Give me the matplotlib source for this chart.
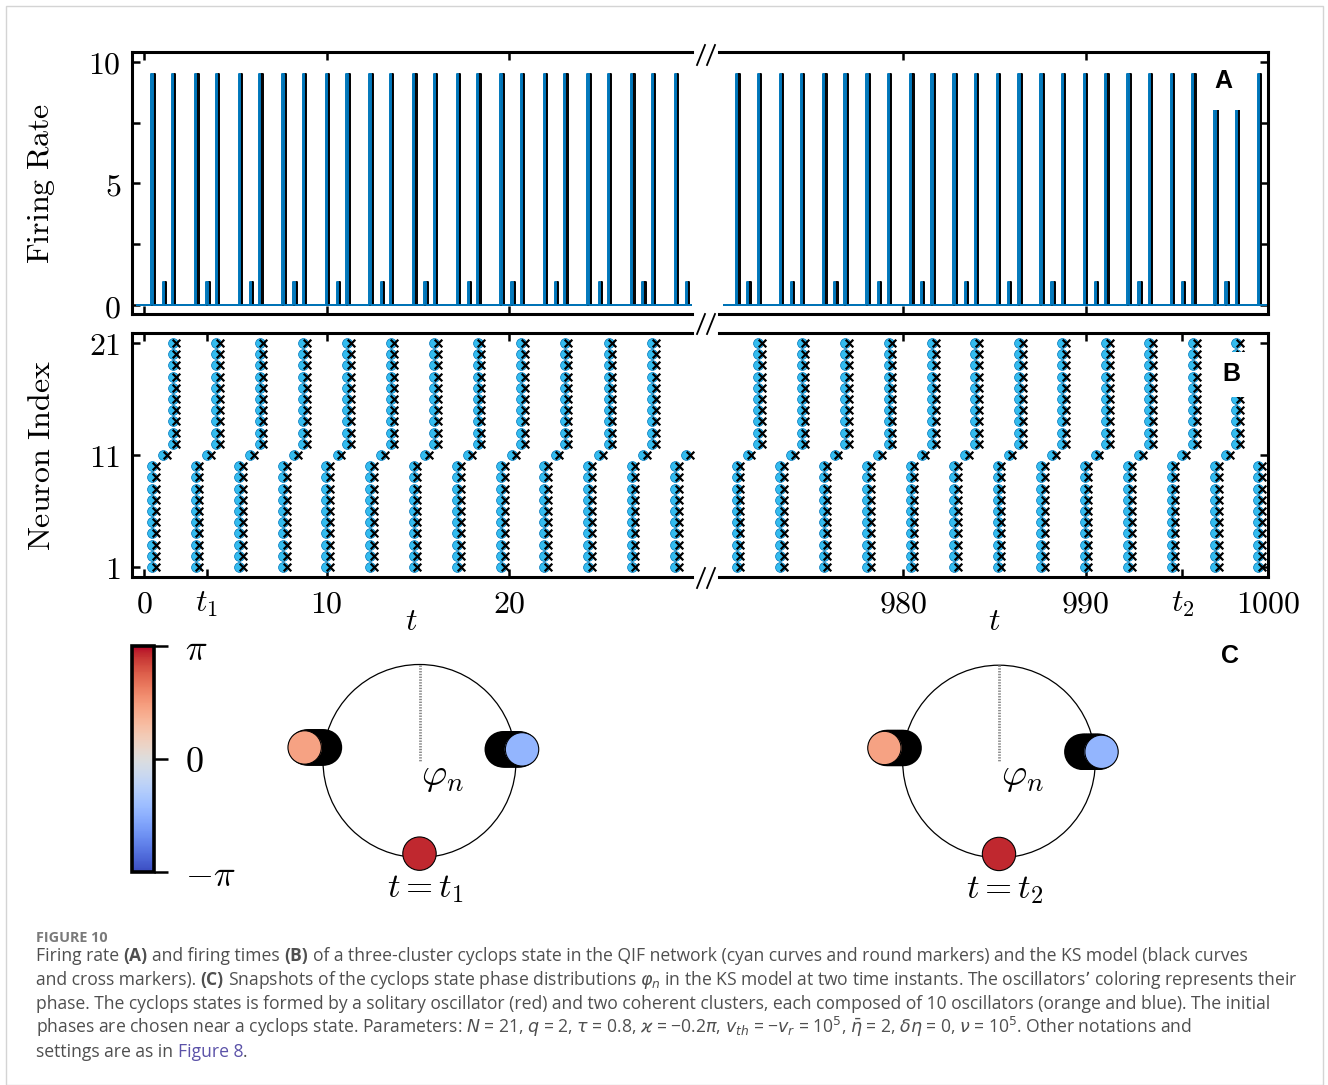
import numpy as np
import matplotlib
matplotlib.use('Agg')
import matplotlib.pyplot as plt
from matplotlib.lines import Line2D
from matplotlib.patches import Circle, Rectangle
from matplotlib.colors import Normalize
from matplotlib.cm import ScalarMappable
from matplotlib.ticker import FixedLocator, FixedFormatter

# ---------------- data ----------------
# QIF firing times: lower cluster = neurons 1-10, solitary = neuron 11, upper cluster = neurons 12-21
lower_early = [0.45, 2.84, 5.22, 7.61, 9.99, 12.38, 14.77, 17.15, 19.54, 21.92, 24.31, 26.70, 29.08]
solo_early = [1.06, 3.45, 5.83, 8.22, 10.60, 12.99, 15.38, 17.76, 20.15, 22.53, 24.92, 27.31, 29.69]
upper_early = [1.57, 3.96, 6.34, 8.73, 11.11, 13.50, 15.89, 18.27, 20.66, 23.04, 25.43, 27.82]
lower_late = [970.87, 973.26, 975.64, 978.02, 980.41, 982.79, 985.17, 987.56, 989.94,
              992.32, 994.71, 997.09, 999.47]
solo_late = [971.48, 973.86, 976.25, 978.63, 981.01, 983.40, 985.78, 988.16, 990.55,
             992.93, 995.31, 997.70]
upper_late = [972.05, 974.43, 976.81, 979.20, 981.58, 983.96, 986.35, 988.73, 991.11,
              993.50, 995.88, 998.26]
ks_lag = 0.12            # KS model fires slightly after the QIF network
cluster_rate = 9.5       # firing-rate peak when a 10-neuron cluster fires
single_rate = 0.95       # firing-rate peak when the solitary neuron fires
lower_ids = list(range(1, 11))
solo_id = [11]
upper_ids = list(range(12, 22))
t1 = 3.45
t2 = 995.31

xticks_early = [0, 10, 20]
xticks_late = [980, 990, 1000]
yticks_rate = [0, 2.5, 5, 7.5, 10]
yticklabels_rate = ['$0$', '', '$5$', '', '$10$']
yticks_idx = [1, 11, 21]

# snapshot phases (rad) at t1 and t2: solitary, orange cluster, blue cluster
snap_solitary = [np.pi, np.pi]
snap_orange = [1.43, 1.43]
snap_blue = [-1.45, -1.47]
cbar_ticks = [-np.pi, 0, np.pi]
cbar_labels = [r'$-\pi$', r'$0$', r'$\pi$']

# ---------------- figure ----------------
plt.rcParams['mathtext.fontset'] = 'cm'
plt.rcParams['font.family'] = ['DejaVu Serif']
W, H = 1328, 1085
fig = plt.figure(figsize=(W / 100, H / 100), dpi=100)
fig.patch.set_facecolor('white')


def px_axes(x0, y0, x1, y1):
    return fig.add_axes([x0 / W, 1 - y1 / H, (x1 - x0) / W, (y1 - y0) / H])


def fpt(x, y):
    return x / W, 1 - y / H


LINE_C = '#0077BB'
MARK_C = '#33BBEE'
TICK_FS = 23

axA1 = px_axes(132, 52, 692, 314)
axA2 = px_axes(719, 52, 1268, 314)
axB1 = px_axes(132, 333, 692, 577)
axB2 = px_axes(719, 333, 1268, 577)


def rate_curve(groups, lo, hi, lag=0.0, half=0.035):
    ev = []
    for times, h in groups:
        ev += [(t + lag, h) for t in times]
    ev.sort()
    xs, ys = [lo], [0]
    for t, h in ev:
        xs += [t - half, t - half, t + half, t + half]
        ys += [0, h, h, 0]
    xs.append(hi)
    ys.append(0)
    return xs, ys


panels = [
    (axA1, axB1, lower_early, solo_early, upper_early, (-0.65, 30), xticks_early, t1, r'$t_1$', True),
    (axA2, axB2, lower_late, solo_late, upper_late, (969.9, 1000), xticks_late, t2, r'$t_2$', False),
]

for axA, axB, low, solo, up, xl, xt, tsnap, tlab, is_left in panels:
    groups = [(low, cluster_rate), (solo, single_rate), (up, cluster_rate)]
    xs, ys = rate_curve(groups, xl[0] + 0.3, xl[1] - 0.05, lag=ks_lag)
    axA.plot(xs, ys, color='black', lw=1.4, zorder=2)
    xs, ys = rate_curve(groups, xl[0] + 0.3, xl[1] - 0.05)
    axA.plot(xs, ys, color=LINE_C, lw=1.4, zorder=2.1)

    for times, ids in [(low, lower_ids), (solo, solo_id), (up, upper_ids)]:
        tt = np.repeat(times, len(ids))
        ii = np.tile(ids, len(times))
        axB.scatter(tt, ii, s=50, facecolor=MARK_C, edgecolor=LINE_C, linewidth=0.5,
                    zorder=3, clip_on=False)
        axB.scatter(tt + 0.2, ii, s=30, marker='x', color='black', linewidth=1.6,
                    zorder=4, clip_on=False)

    axA.set_ylim(-0.37, 10.41)
    axB.set_ylim(0.1, 21.9)
    for ax in (axA, axB):
        ax.set_xlim(*xl)
        for s in ax.spines.values():
            s.set_linewidth(2.2)
        ax.tick_params(which='both', direction='in', length=6, width=1.8,
                       top=True, bottom=True, labelsize=TICK_FS, pad=8)
        if is_left:
            ax.spines['right'].set_visible(False)
            ax.tick_params(left=True, right=False)
        else:
            ax.spines['left'].set_visible(False)
            ax.tick_params(left=False, labelleft=False, right=True)
    axA.xaxis.set_major_locator(FixedLocator(xt))
    axA.tick_params(labelbottom=False)
    btick = sorted(xt + [tsnap])
    blab = [tlab if v == tsnap else '$%d$' % v for v in btick]
    axB.xaxis.set_major_locator(FixedLocator(btick))
    axB.xaxis.set_major_formatter(FixedFormatter(blab))
    axA.yaxis.set_major_locator(FixedLocator(yticks_rate))
    axA.yaxis.set_major_formatter(FixedFormatter(yticklabels_rate))
    axB.yaxis.set_major_locator(FixedLocator(yticks_idx))
    axB.yaxis.set_major_formatter(FixedFormatter(['$%d$' % v for v in yticks_idx]))

fig.text(*fpt(42, 183), r'$\mathrm{Firing\ Rate}$', fontsize=TICK_FS, rotation=90,
         ha='center', va='center')
fig.text(*fpt(42, 455), r'$\mathrm{Neuron\ Index}$', fontsize=TICK_FS, rotation=90,
         ha='center', va='center')
fig.text(*fpt(411, 622), r'$t$', fontsize=TICK_FS, ha='center', va='center')
fig.text(*fpt(994, 622), r'$t$', fontsize=TICK_FS, ha='center', va='center')

lab_kw = dict(fontsize=18, fontweight='bold', family=['Liberation Sans'], ha='center', va='center')
# white background behind the "A" label (under the spines)
axA2.add_patch(Rectangle((0.884, 0.78), 0.078, 0.25, transform=axA2.transAxes,
                         facecolor='white', edgecolor='none', zorder=2.3, clip_on=True))
axA2.text(0.918, 0.89, 'A', transform=axA2.transAxes, zorder=2.4, **lab_kw)
axB2.text(0.933, 0.83, 'B', transform=axB2.transAxes, zorder=5,
          bbox=dict(facecolor='white', edgecolor='none', pad=7.5), **lab_kw)
fig.text(*fpt(1230, 656), 'C', **lab_kw)

# axis break marks
for yc in (55, 324, 578):
    for dx in (-5, 5):
        fig.add_artist(Line2D([(706 + dx - 4) / W, (706 + dx + 4) / W],
                              [1 - (yc + 10) / H, 1 - (yc - 10) / H],
                              transform=fig.transFigure, color='black', lw=1.3))

# ---------------- panel C ----------------
cmap = plt.get_cmap('coolwarm')
norm = Normalize(-np.pi, np.pi)
cax = px_axes(132, 646, 154, 872)
cb = fig.colorbar(ScalarMappable(norm=norm, cmap=cmap), cax=cax)
cb.set_ticks(cbar_ticks)
cb.set_ticklabels(cbar_labels)
cb.outline.set_linewidth(2.6)
cax.tick_params(direction='out', length=10, width=1.8, labelsize=26, pad=12)

snap_centers = [(419.5, 761, 96.5), (999, 761.5, 96.3)]
snap_labels = [r'$t = t_1$', r'$t = t_2$']
disc_r = 0.173
for k, (cx, cy, R) in enumerate(snap_centers):
    half = 170
    ax = px_axes(cx - half, cy - half, cx + half, cy + half)
    ax.set_xlim(-half / R, half / R)
    ax.set_ylim(-half / R, half / R)
    ax.axis('off')
    ax.add_patch(Circle((0, 0), 1, fill=False, ec='black', lw=0.9))
    ax.plot([0, 0], [1, 0], color='#8a8a8a', lw=2.0, ls=(0, (0.5, 0.5)))
    ax.text(0.24, -0.15, r'$\varphi_n$', fontsize=28, ha='center', va='center')
    ax.text(0.06, -1.32, snap_labels[k], fontsize=25, ha='center', va='center')
    # clusters drawn as stacked discs (10 oscillators each)
    for phase, stack in [(snap_orange[k], np.linspace(0.0, -0.2, 10)),
                         (snap_blue[k], np.linspace(-0.13, 0.07, 10))]:
        px_, py_ = -np.sin(phase), np.cos(phase)
        col = cmap(norm(phase))
        for j, off in enumerate(stack):
            last = j == len(stack) - 1
            ax.add_patch(Circle((px_ + off, py_), disc_r, facecolor=col, edgecolor='black',
                                lw=0.8 if last else 2.2, zorder=3 + j))
    ph = snap_solitary[k]
    ax.add_patch(Circle((-np.sin(ph), np.cos(ph) + 0.04), disc_r, facecolor=cmap(norm(ph * 0.93)),
                        edgecolor='black', lw=0.8, zorder=20))

# ---------------- caption ----------------
fig.add_artist(Rectangle((5.5 / W, 0.5 / H), (1322.5 - 5.5) / W, (1079.5 - 0.5) / H,
                         transform=fig.transFigure, fill=False, ec='#d4d4d4', lw=1.0))
renderer = fig.canvas.get_renderer()
CAP_FONT = ['Open Sans', 'DejaVu Sans']
BODY_C = '#4f4f4f'


def space_width(size):
    a = fig.text(0, 0, 'a a', fontsize=size, family=CAP_FONT)
    b = fig.text(0, 0, 'aa', fontsize=size, family=CAP_FONT)
    w = a.get_window_extent(renderer).width - b.get_window_extent(renderer).width
    a.remove()
    b.remove()
    return w


def draw_segments(segs, x0, ybase, size, dry=False):
    x = x0
    made = []
    sp = space_width(size)
    for txt, style in segs:
        lead = len(txt) - len(txt.lstrip(' '))
        trail = len(txt) - len(txt.rstrip(' '))
        core = txt.strip(' ')
        x += lead * sp
        if core:
            kw = dict(color=BODY_C)
            kw.update(style)
            t = fig.text(x / W, 1 - ybase / H, core, fontsize=size, family=CAP_FONT,
                         va='baseline', ha='left', math_fontfamily='dejavusans', **kw)
            x += t.get_window_extent(renderer).width
            made.append(t)
        x += trail * sp
    if dry:
        for t in made:
            t.remove()
    return x


N = {}
B = {'fontweight': 'bold'}
LINK = {'color': '#5b52a8'}
cap_lines = [
    [("Firing rate ", N), ("(A)", B), (" and firing times ", N), ("(B)", B),
     (" of a three-cluster cyclops state in the QIF network (cyan curves and round markers) and the KS model (black curves", N)],
    [("and cross markers). ", N), ("(C)", B),
     (" Snapshots of the cyclops state phase distributions $\\varphi_n$ in the KS model at two time instants. The oscillators\u2019 coloring represents their", N)],
    [("phase. The cyclops states is formed by a solitary oscillator (red) and two coherent clusters, each composed of 10 oscillators (orange and blue). The initial", N)],
    [("phases are chosen near a cyclops state. Parameters: $N$ = 21, $q$ = 2, $\\tau$ = 0.8, $\\varkappa$ = \u22120.2$\\pi$, $v_{th}$ = \u2212$v_r$ = 10$^5$, $\\bar{\\eta}$ = 2, $\\delta\\eta$ = 0, $\\nu$ = 10$^5$. Other notations and", N)],
    [("settings are as in ", N), ("Figure 8", LINK), (".", N)],
]
base_size = 12.0
wtest = draw_segments(cap_lines[1], 36, 985, base_size, dry=True) - 36
cap_size = base_size * (1296 - 36) / wtest
fig.text(36 / W, 1 - 942 / H, 'FIGURE 10', fontsize=cap_size * 0.82, family=CAP_FONT,
         fontweight='bold', color='#7a7a7a', va='baseline', ha='left')
for i, segs in enumerate(cap_lines):
    draw_segments(segs, 36, 961 + 24 * i, cap_size)

fig.savefig('out.png', dpi=100, facecolor='white')
